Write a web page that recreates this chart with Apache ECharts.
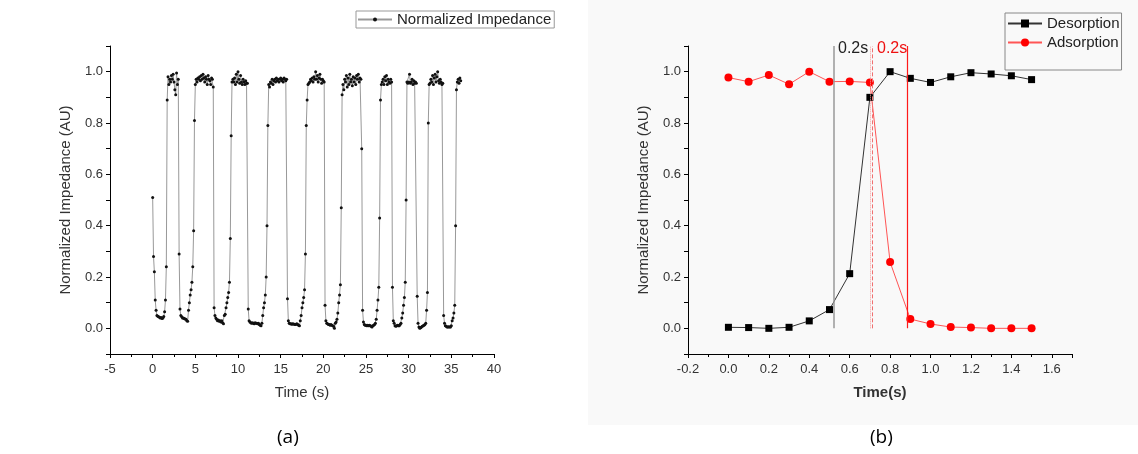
<!DOCTYPE html>
<html>
<head>
<meta charset="utf-8">
<script src="https://cdn.jsdelivr.net/npm/echarts@6/dist/echarts.min.js"></script>
<style>
  html, body { margin: 0; padding: 0; background: #fff; }
  #chart { width: 1138px; height: 454px; }
</style>
</head>
<body>
<div id="chart"></div>
<script>
// (a) normalized impedance, one reading every 0.1 s, each row = 1 s
const sampleStep = 0.1;
const impedance = [
  .51, .28, .22, .11, .07, .05, .047, .045, .043, .04,
  .042, .038, .04, .046, .065, .11, .24, .89, .98, .95,
  .97, .96, .985, .97, .99, .96, .93, .91, .995, .95,
  .97, .29, .075, .05, .045, .04, .04, .038, .036, .035,
  .03, .028, .07, .1, .13, .15, .18, .24, .38, .81,
  .95, .97, .96, .975, .97, .98, .965, .985, .97, .99,
  .975, .96, .98, .97, .95, .985, .97, .965, .95, .975,
  .97, .94, .08, .05, .04, .035, .03, .032, .028, .03,
  .025, .03, .022, .018, .05, .055, .08, .1, .12, .14,
  .18, .35, .75, .96, .97, .96, .975, .95, .99, .96,
  1.0, .97, .955, .985, .96, .95, .97, .96, .95, .965,
  .955, .955, .075, .03, .025, .022, .02, .022, .02, .018,
  .022, .02, .02, .018, .02, .015, .012, .01, .02, .05,
  .08, .1, .13, .2, .4, .79, .95, .94, .96, .955,
  .97, .95, .965, .97, .96, .975, .965, .97, .96, .97,
  .975, .965, .97, .96, .975, .97, .965, .97, .115, .03,
  .02, .018, .018, .016, .018, .017, .016, .015, .016, .018,
  .015, .012, .01, .03, .05, .08, .1, .12, .15, .29,
  .79, .89, .95, .955, .96, .97, .965, .975, .96, .98,
  .97, 1.0, .97, .985, .96, .975, .99, .97, .955, .97,
  .965, .96, .09, .03, .02, .018, .015, .015, .012, .015,
  .012, .01, .008, 0, .02, .025, .035, .06, .1, .13,
  .17, .47, .91, .95, .93, .97, .96, .985, .94, .975,
  .95, .99, .96, .97, .945, .98, .96, .975, .95, .985,
  .97, .99, .96, .975, .97, .7, .07, .025, .015, .012,
  .012, .01, .012, .01, .012, .01, .008, .005, .01, .012,
  .015, .02, .035, .07, .11, .16, .43, .89, .95, .96,
  .97, .95, .98, .965, .985, .95, .97, .96, .955, .97,
  .96, .16, .03, .02, .01, .008, .01, .012, .01, .01,
  .015, .02, .04, .06, .09, .12, .18, .5, .96, .955,
  .96, .99, .955, .96, .97, .95, .965, .955, .96, .955,
  .125, .02, .005, 0, .002, .005, .008, .01, .012, .015,
  .02, .07, .14, .8, .95, .955, .97, .96, .985, .95,
  .975, .99, .96, .98, 1.0, .965, .955, .97, .96, .95,
  .955, .05, .02, .01, .008, .005, .005, .006, .005, .005,
  .01, .03, .04, .06, .09, .4, .93, .96, .97, .955,
  .975, .965
];

// (b) one switching event
const timeB = [0, 0.1, 0.2, 0.3, 0.4, 0.5, 0.6, 0.7, 0.8, 0.9, 1.0, 1.1, 1.2, 1.3, 1.4, 1.5];
const desorption = [0.004, 0.003, 0, 0.004, 0.029, 0.073, 0.213, 0.9, 1.0, 0.974, 0.958, 0.98, 0.996, 0.991, 0.984, 0.969];
const adsorption = [0.977, 0.961, 0.987, 0.951, 1.0, 0.961, 0.962, 0.958, 0.258, 0.036, 0.017, 0.005, 0.003, 0, 0, 0];

// guide lines (desorption start, adsorption start x2, adsorption end) and labels
const desorbGuide = 0.52;
const adsorbGuides = [0.703, 0.713];
const adsorbEnd = 0.883;
const guideLabel = '0.2s';

const chart = echarts.init(document.getElementById('chart'));

const seriesA = impedance.map(function (v, i) { return [+(i * sampleStep).toFixed(1), v]; });
const zip = function (ys) { return timeB.map(function (t, i) { return [t, ys[i]]; }); };

const font = 'Liberation Sans, Arial, sans-serif';
const axisLine = { show: true, onZero: false, lineStyle: { color: '#000', width: 1 } };
const labelStyle = { color: '#333', fontSize: 13, fontFamily: font };

function yAxisFor(gridIndex) {
  return {
    gridIndex: gridIndex,
    type: 'value',
    min: -0.1, max: 1.1, interval: 0.1,
    name: 'Normalized Impedance (AU)',
    nameLocation: 'middle',
    nameGap: 37,
    nameTextStyle: { color: '#333', fontSize: 15, fontFamily: font },
    axisLine: axisLine,
    axisTick: { show: true, length: 4, lineStyle: { color: '#000' } },
    axisLabel: Object.assign({
      margin: 7,
      formatter: function (v) {
        const k = Math.round(v * 10);
        return (k % 2 === 0 && k >= 0 && k <= 10) ? (k / 10).toFixed(1) : '';
      }
    }, labelStyle),
    splitLine: { show: false }
  };
}

function vline(x, style) {
  return [{ coord: [x, 0], lineStyle: style }, { coord: [x, 1.1], lineStyle: style }];
}

function tagAt(x, color) {
  return {
    coord: [x, 1.09],
    label: {
      show: true, position: 'right', distance: 4,
      formatter: guideLabel, color: color, fontSize: 16, fontFamily: font
    }
  };
}

chart.setOption({
  animation: false,
  backgroundColor: '#fff',
  graphic: [
    { type: 'rect', z: -10, shape: { x: 588, y: 0, width: 550, height: 425 }, style: { fill: '#f9f9f9' } },
    { type: 'text', left: 277, top: 428, style: { text: '(a)', fontSize: 19, fontFamily: 'Open Sans, sans-serif', fill: '#000' } },
    { type: 'text', left: 870, top: 428, style: { text: '(b)', fontSize: 19, fontFamily: 'Open Sans, sans-serif', fill: '#000' } }
  ],
  legend: [
    {
      data: ['Normalized Impedance'],
      left: 356, top: 11,
      padding: [1, 3, 1, 1],
      itemWidth: 34, itemHeight: 5,
      borderColor: '#999', borderWidth: 1,
      textStyle: { color: '#222', fontSize: 15, fontFamily: font }
    },
    {
      data: ['Desorption', 'Adsorption'],
      orient: 'vertical',
      left: 1005, top: 13,
      padding: [3, 2, 20, 2],
      itemGap: 4,
      itemWidth: 34, itemHeight: 10,
      borderColor: '#888', borderWidth: 1,
      textStyle: { color: '#222', fontSize: 15, fontFamily: font }
    }
  ],
  grid: [
    { left: 110, top: 46, width: 384, height: 308 },
    { left: 688, top: 46, width: 384, height: 308 }
  ],
  xAxis: [
    {
      gridIndex: 0, type: 'value',
      min: -5, max: 40, interval: 5,
      name: 'Time (s)', nameLocation: 'middle', nameGap: 31,
      nameTextStyle: { color: '#333', fontSize: 15, fontFamily: font },
      axisLine: axisLine,
      axisTick: { show: true, length: 4, lineStyle: { color: '#000' } },
      minorTick: { show: true, splitNumber: 2, length: 3, lineStyle: { color: '#000' } },
      axisLabel: Object.assign({ margin: 9 }, labelStyle),
      splitLine: { show: false }
    },
    {
      gridIndex: 1, type: 'value',
      min: -0.2, max: 1.7, interval: 0.2,
      name: 'Time(s)', nameLocation: 'middle', nameGap: 31,
      nameTextStyle: { color: '#333', fontSize: 15, fontWeight: 'bold', fontFamily: font },
      axisLine: axisLine,
      axisTick: { show: true, length: 4, lineStyle: { color: '#000' } },
      minorTick: { show: true, splitNumber: 2, length: 3, lineStyle: { color: '#000' } },
      axisLabel: Object.assign({
        margin: 9,
        formatter: function (v) { return v > 1.65 ? '' : v.toFixed(1); }
      }, labelStyle),
      splitLine: { show: false }
    }
  ],
  yAxis: [yAxisFor(0), yAxisFor(1)],
  series: [
    {
      name: 'Normalized Impedance',
      type: 'line',
      xAxisIndex: 0, yAxisIndex: 0,
      data: seriesA,
      symbol: 'circle', symbolSize: 3,
      showAllSymbol: true,
      lineStyle: { color: '#999', width: 1 },
      itemStyle: { color: '#111' }
    },
    {
      name: 'Adsorption',
      type: 'line',
      xAxisIndex: 1, yAxisIndex: 1,
      data: zip(adsorption),
      symbol: 'circle', symbolSize: 8,
      lineStyle: { color: '#ff5555', width: 1 },
      itemStyle: { color: '#ff0000' },
      z: 3,
      markLine: {
        silent: true,
        symbol: 'none',
        label: { show: false },
        lineStyle: { color: '#f07070', width: 1 },
        data: [
          vline(adsorbGuides[0], { color: '#f4a0a0', width: 1, type: 'dotted' }),
          vline(adsorbGuides[1], { color: '#f07070', width: 1, type: 'dashed' })
        ]
      },
      markPoint: {
        silent: true,
        symbol: 'rect', symbolSize: 1,
        itemStyle: { color: 'rgba(0,0,0,0)' },
        data: [tagAt(adsorbGuides[1], '#ee1111')]
      }
    },
    {
      // carries only the closing guide line of the adsorption step
      name: 'adsorb-end',
      type: 'line',
      xAxisIndex: 1, yAxisIndex: 1,
      data: [],
      color: '#ff1a1a',
      z: 3,
      markLine: {
        silent: true,
        symbol: 'none',
        label: { show: false },
        lineStyle: { color: '#ff1a1a', width: 1.2, type: 'solid' },
        data: [[{ coord: [adsorbEnd, 0] }, { coord: [adsorbEnd, 1.1] }]]
      }
    },
    {
      name: 'Desorption',
      type: 'line',
      xAxisIndex: 1, yAxisIndex: 1,
      data: zip(desorption),
      symbol: 'rect', symbolSize: 7,
      lineStyle: { color: '#333', width: 1 },
      itemStyle: { color: '#000' },
      z: 4,
      markLine: {
        silent: true,
        symbol: 'none',
        label: { show: false },
        lineStyle: { color: '#999', width: 1.5, type: 'solid' },
        data: [[{ coord: [desorbGuide, 0] }, { coord: [desorbGuide, 1.1] }]]
      },
      markPoint: {
        silent: true,
        symbol: 'rect', symbolSize: 1,
        itemStyle: { color: 'rgba(0,0,0,0)' },
        data: [tagAt(desorbGuide, '#222')]
      }
    }
  ]
});
</script>
</body>
</html>
